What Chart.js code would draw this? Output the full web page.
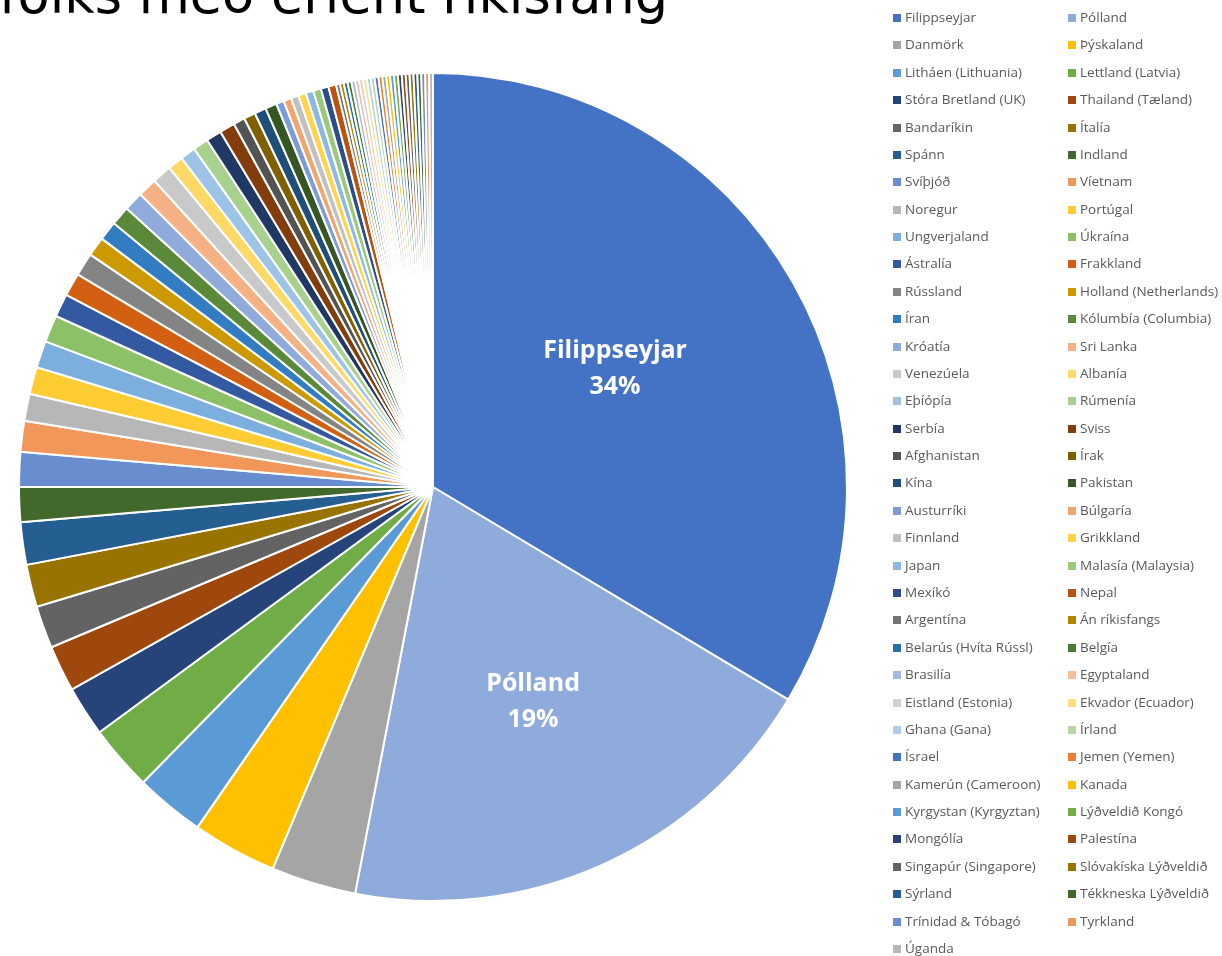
<!DOCTYPE html>
<html>
<head>
<meta charset="utf-8">
<script src="https://cdn.jsdelivr.net/npm/chart.js@4/dist/chart.umd.min.js"></script>
<style>
  body { margin: 0; background: #fff; overflow: hidden; }
  #wrap { position: relative; width: 1222px; height: 956px; }
  #legend { position: absolute; left: 0; top: 0; font-family: "Open Sans", sans-serif; font-size: 13.5px; color: #595959; }
  .item { position: absolute; height: 20px; line-height: 20px; white-space: nowrap; }
  .box { display: inline-block; width: 8px; height: 8px; margin-right: 4px; vertical-align: 0px; }
</style>
</head>
<body>
<div id="wrap">
  <canvas id="pieChart"></canvas>
  <div id="legend"></div>
</div>
<script>
const title = "Fjöldi fólks með erlent ríkisfang";

const countries = [
  "Filippseyjar", "Pólland", "Danmörk", "Þýskaland", "Litháen (Lithuania)", "Lettland (Latvia)",
  "Stóra Bretland (UK)", "Thailand (Tæland)", "Bandaríkin", "Ítalía", "Spánn", "Indland",
  "Svíþjóð", "Víetnam", "Noregur", "Portúgal", "Ungverjaland", "Úkraína",
  "Ástralía", "Frakkland", "Rússland", "Holland (Netherlands)", "Íran", "Kólumbía (Columbia)",
  "Króatía", "Sri Lanka", "Venezúela", "Albanía", "Eþíópía", "Rúmenía",
  "Serbía", "Sviss", "Afghanistan", "Írak", "Kína", "Pakistan",
  "Austurríki", "Búlgaría", "Finnland", "Grikkland", "Japan", "Malasía (Malaysia)",
  "Mexíkó", "Nepal", "Argentína", "Án ríkisfangs", "Belarús (Hvíta Rússl)", "Belgía",
  "Brasilía", "Egyptaland", "Eistland (Estonia)", "Ekvador (Ecuador)", "Ghana (Gana)", "Írland",
  "Ísrael", "Jemen (Yemen)", "Kamerún (Cameroon)", "Kanada", "Kyrgystan (Kyrgyztan)", "Lýðveldið Kongó",
  "Mongólía", "Palestína", "Singapúr (Singapore)", "Slóvakíska Lýðveldið", "Sýrland", "Tékkneska Lýðveldið",
  "Trínidad & Tóbagó", "Tyrkland", "Úganda"
];

const counts = [
  223, 129, 22, 22, 18, 17,
  13, 12, 11, 11, 11, 9,
  9, 8, 7, 7, 7, 7,
  6, 6, 6, 5, 5, 5,
  5, 5, 5, 4, 4, 4,
  4, 4, 3, 3, 3, 3,
  2, 2, 2, 2, 2, 2,
  2, 2, 1, 1, 1, 1,
  1, 1, 1, 1, 1, 1,
  1, 1, 1, 1, 1, 1,
  1, 1, 1, 1, 1, 1,
  1, 1, 1
];

// office theme colours, repeated with darker / lighter variants
const baseColors = ["#4472C4", "#ED7D31", "#A5A5A5", "#FFC000", "#5B9BD5", "#70AD47"];
const variants = [[1, 0], [0.6, 0], [0.8, 0.2], [0.8, 0], [0.6, 0.4], [0.5, 0], [0.7, 0.3], [0.7, 0], [0.5, 0.5]];

function shade(hex, mod, off) {
  let r = parseInt(hex.slice(1, 3), 16) / 255;
  let g = parseInt(hex.slice(3, 5), 16) / 255;
  let b = parseInt(hex.slice(5, 7), 16) / 255;
  const max = Math.max(r, g, b), min = Math.min(r, g, b);
  let h = 0, s = 0, l = (max + min) / 2;
  if (max !== min) {
    const d = max - min;
    s = l > 0.5 ? d / (2 - max - min) : d / (max + min);
    if (max === r) h = (g - b) / d + (g < b ? 6 : 0);
    else if (max === g) h = (b - r) / d + 2;
    else h = (r - g) / d + 4;
    h /= 6;
  }
  l = Math.min(1, l * mod + off);
  return "hsl(" + (h * 360).toFixed(1) + "," + (s * 100).toFixed(1) + "%," + (l * 100).toFixed(1) + "%)";
}

const colors = countries.map((c, i) => {
  const v = variants[Math.floor(i / 6) % 9];
  return shade(baseColors[i % 6], v[0], v[1]);
});
colors[1] = shade("#4472C4", 0.6, 0.4);

// nudges for the two slice labels (px)
const labelNudge = [[-16, -6], [7, 7]];

const titlePlugin = {
  id: "cutTitle",
  afterDraw(chart) {
    const ctx = chart.ctx;
    ctx.save();
    ctx.font = '52.5px "DejaVu Sans"';
    ctx.fillStyle = "#000";
    ctx.textAlign = "right";
    ctx.textBaseline = "alphabetic";
    ctx.fillText(title, 668, 13);
    ctx.restore();
  },
};

const sliceLabels = {
  id: "sliceLabels",
  afterDatasetsDraw(chart) {
    const ctx = chart.ctx;
    const meta = chart.getDatasetMeta(0);
    const total = counts.reduce((a, b) => a + b, 0);
    ctx.save();
    ctx.font = 'bold 25px "Open Sans"';
    ctx.fillStyle = "#fff";
    ctx.textAlign = "center";
    ctx.textBaseline = "middle";
    [0, 1].forEach((i) => {
      const arc = meta.data[i];
      const p = arc.getProps(["x", "y", "startAngle", "endAngle", "outerRadius"], true);
      const mid = (p.startAngle + p.endAngle) / 2;
      const r = p.outerRadius * 0.55;
      const x = p.x + Math.cos(mid) * r + labelNudge[i][0];
      const y = p.y + Math.sin(mid) * r + labelNudge[i][1];
      ctx.fillText(countries[i], x, y - 18);
      ctx.fillText(Math.round((counts[i] / total) * 100) + "%", x, y + 18);
    });
    ctx.restore();
  },
};

const chart = new Chart(document.getElementById("pieChart"), {
  type: "pie",
  data: {
    labels: countries,
    datasets: [
      {
        data: counts,
        backgroundColor: colors,
        borderColor: "#ffffff",
        borderWidth: 2,
      },
    ],
  },
  options: {
    responsive: true,
    maintainAspectRatio: false,
    animation: false,
    devicePixelRatio: 1,
    layout: { padding: { left: 18, top: 72, right: 374, bottom: 54 } },
    plugins: {
      legend: { display: false },
      tooltip: { enabled: false },
    },
  },
  plugins: [titlePlugin, sliceLabels],
});

// legend in two columns, row by row like the original
const legend = document.getElementById("legend");
countries.forEach((name, i) => {
  const row = Math.floor(i / 2);
  const col = i % 2;
  const div = document.createElement("div");
  div.className = "item";
  div.style.left = (col ? 1068 : 893) + "px";
  div.style.top = (17 + row * 27.38 - 10) + "px";
  div.innerHTML = '<span class="box" style="background:' + colors[i] + '"></span>';
  div.appendChild(document.createTextNode(name));
  legend.appendChild(div);
});
</script>
</body>
</html>
